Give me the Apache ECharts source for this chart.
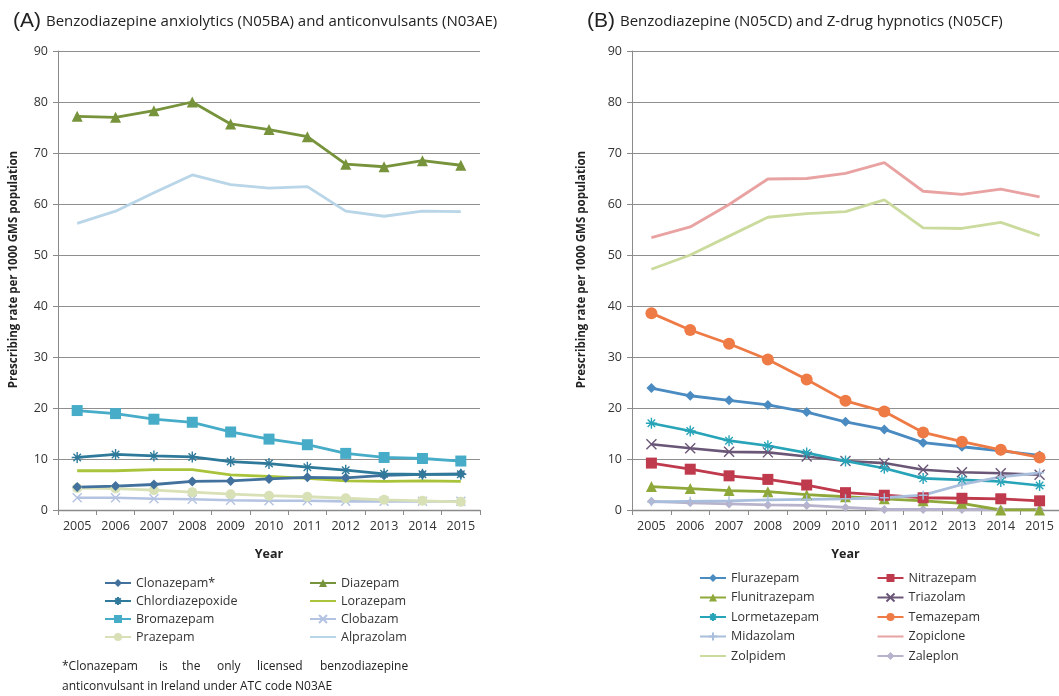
<!DOCTYPE html>
<html>
<head>
<meta charset="utf-8">
<title>Benzodiazepine prescribing rates</title>
<script src="https://cdn.jsdelivr.net/npm/echarts@6/dist/echarts.min.js"></script>
<style>
    html, body { margin: 0; padding: 0; background: #fff; }
    .wrap { position: relative; width: 1059px; height: 696px; overflow: hidden; }
    .panel { position: absolute; top: 0; height: 696px; }
    #chart-a { left: 0; width: 530px; }
    #chart-b { left: 530px; width: 529px; }
</style>
</head>
<body>
<div class="wrap">
    <div class="panel" id="chart-a"></div>
    <div class="panel" id="chart-b"></div>
</div>
<script>
var years = ['2005', '2006', '2007', '2008', '2009', '2010', '2011', '2012', '2013', '2014', '2015'];
var yTicks = [0, 10, 20, 30, 40, 50, 60, 70, 80, 90];

// (A) anxiolytics and anticonvulsants
var clonazepam = [4.5, 4.7, 5.0, 5.6, 5.7, 6.1, 6.4, 6.3, 6.8, 7.0, 7.1];
var chlordiazepoxide = [10.3, 10.9, 10.6, 10.4, 9.5, 9.1, 8.4, 7.8, 7.1, 7.0, 7.0];
var bromazepam = [19.5, 18.9, 17.8, 17.2, 15.3, 13.9, 12.8, 11.1, 10.3, 10.1, 9.6];
var prazepam = [4.3, 4.2, 3.9, 3.5, 3.1, 2.8, 2.6, 2.3, 2.0, 1.8, 1.6];
var diazepam = [77.2, 77.0, 78.3, 80.0, 75.7, 74.6, 73.2, 67.8, 67.3, 68.5, 67.6];
var lorazepam = [7.7, 7.7, 7.9, 7.9, 6.9, 6.6, 6.2, 5.7, 5.6, 5.7, 5.6];
var clobazam = [2.4, 2.4, 2.2, 2.1, 1.9, 1.8, 1.8, 1.7, 1.7, 1.7, 1.7];
var alprazolam = [56.2, 58.6, 62.2, 65.7, 63.8, 63.1, 63.4, 58.6, 57.6, 58.6, 58.5];

// (B) hypnotics
var flurazepam = [23.9, 22.4, 21.5, 20.6, 19.2, 17.3, 15.8, 13.2, 12.4, 11.6, 10.7];
var nitrazepam = [9.2, 8.0, 6.7, 6.0, 4.9, 3.4, 2.9, 2.4, 2.3, 2.2, 1.8];
var flunitrazepam = [4.6, 4.2, 3.8, 3.6, 3.0, 2.6, 2.2, 1.8, 1.3, 0, 0];
var triazolam = [12.9, 12.1, 11.4, 11.3, 10.5, 9.6, 9.2, 7.9, 7.4, 7.2, 6.9];
var lormetazepam = [17.0, 15.5, 13.6, 12.6, 11.2, 9.6, 8.2, 6.2, 5.9, 5.6, 4.8];
var temazepam = [38.6, 35.3, 32.6, 29.5, 25.6, 21.4, 19.3, 15.2, 13.4, 11.8, 10.3];
var midazolam = [1.6, 1.7, 1.8, 2.0, 2.1, 2.2, 2.4, 2.9, 5.0, 6.5, 7.3];
var zopiclone = [53.4, 55.5, 59.9, 64.9, 65.0, 66.0, 68.1, 62.5, 61.9, 62.9, 61.4];
var zolpidem = [47.2, 50.0, 53.7, 57.4, 58.1, 58.5, 60.8, 55.3, 55.2, 56.4, 53.8];
var zaleplon = [1.7, 1.4, 1.2, 1.0, 0.9, 0.5, 0.1, 0.1, 0.1, 0.1, 0.1];

// legend order, row by row (two columns)
var legendA = ['Clonazepam*', 'Diazepam', 'Chlordiazepoxide', 'Lorazepam', 'Bromazepam', 'Clobazam', 'Prazepam', 'Alprazolam'];
var legendB = ['Flurazepam', 'Nitrazepam', 'Flunitrazepam', 'Triazolam', 'Lormetazepam', 'Temazepam', 'Midazolam', 'Zopiclone', 'Zolpidem', 'Zaleplon'];
// series drawn without markers: plain line in the legend too
var plainLines = ['Lorazepam', 'Alprazolam', 'Zopiclone', 'Zolpidem'];

var FONT = '"Open Sans", "Liberation Sans", sans-serif';
var STAR = 'path://M0,5L10,5M5,0L5,10M1.6,1.6L8.4,8.4M8.4,1.6L1.6,8.4';
var CROSS = 'path://M1,1L9,9M9,1L1,9';
var PLUS = 'path://M5,0L5,10M3.5,5L6.5,5';

var line = function (name, data, color, symbol, size, width, stroked) {
    var s = {
        name: name,
        type: 'line',
        data: data,
        symbol: symbol || 'none',
        symbolSize: size || 8,
        showSymbol: !!symbol,
        lineStyle: { color: color, width: width || 2.8 },
        itemStyle: { color: color },
        emphasis: { disabled: true }
    };
    if (stroked) {
        s.itemStyle = { color: 'rgba(0,0,0,0)', borderColor: color, borderWidth: 1.4 };
    }
    return s;
};

var legendData = function (names) {
    return names.map(function (n) {
        if (plainLines.indexOf(n) >= 0) {
            return { name: n, itemStyle: { opacity: 0 } };
        }
        return { name: n };
    });
};

var baseOption = function (cfg) {
    return {
        backgroundColor: '#fff',
        animation: false,
        title: {
            left: cfg.titleLeft,
            top: 6,
            text: '{b|' + cfg.letter + '} {t|' + cfg.title + '}',
            textStyle: {
                fontWeight: 'normal',
                rich: {
                    b: { fontFamily: '"Liberation Sans", sans-serif', fontSize: 21, color: '#222' },
                    t: { fontFamily: FONT, fontSize: 15, color: '#222' }
                }
            }
        },
        grid: { left: cfg.gridLeft, top: 51, width: cfg.gridWidth, height: 459 },
        xAxis: {
            type: 'category',
            data: years,
            boundaryGap: true,
            name: 'Year',
            nameLocation: 'middle',
            nameGap: 38,
            nameTextStyle: { fontFamily: FONT, fontSize: 12.5, fontWeight: 'bold', color: '#222' },
            axisLine: { lineStyle: { color: '#8a8a8a', width: 1.4 } },
            axisTick: { show: true, length: 5, lineStyle: { color: '#8a8a8a' } },
            axisLabel: { interval: 0, fontFamily: FONT, fontSize: 12.5, color: '#333', margin: 10 }
        },
        yAxis: {
            type: 'value',
            min: yTicks[0],
            max: yTicks[yTicks.length - 1],
            interval: 10,
            name: 'Prescribing rate per 1000 GMS population',
            nameLocation: 'middle',
            nameGap: cfg.nameGap,
            nameTextStyle: { fontFamily: FONT, fontSize: 11.5, fontWeight: 'bold', color: '#222', padding: [0, 0, 0, 22] },
            axisLine: { show: true, lineStyle: { color: '#8a8a8a', width: 1 } },
            axisTick: { show: true, length: 5, lineStyle: { color: '#8a8a8a' } },
            axisLabel: { fontFamily: FONT, fontSize: 12.5, color: '#333', margin: 10 },
            splitLine: { lineStyle: { color: '#8f8f8f', width: 1.2 } }
        },
        legend: {
            orient: 'horizontal',
            left: cfg.legendLeft,
            top: cfg.legendTop,
            width: 2 * (26 + 5 + cfg.legendTextW) + cfg.legendGap + 2,
            padding: 0,
            data: legendData(cfg.legend),
            itemWidth: 26,
            itemHeight: 10,
            itemGap: cfg.legendGap,
            textStyle: { fontFamily: FONT, fontSize: 12.5, color: '#333', lineHeight: 14, width: cfg.legendTextW },
            selectedMode: false
        },
        graphic: cfg.graphic || [],
        series: cfg.series
    };
};

var footWords = [['*Clonazepam', 62], ['is', 159], ['the', 182], ['only', 217], ['licensed', 257], ['benzodiazepine', 320]];
var footnote = footWords.map(function (w) {
    return { type: 'text', left: w[1], top: 661, style: { text: w[0], font: '12px ' + FONT, fill: '#222' } };
});
footnote.push({ type: 'text', left: 62, top: 681, style: { text: 'anticonvulsant in Ireland under ATC code N03AE', font: '12px ' + FONT, fill: '#222' } });

var run = function () {
    var chartA = echarts.init(document.getElementById('chart-a'));
    chartA.setOption(baseOption({
        letter: '(A)',
        title: 'Benzodiazepine anxiolytics (N05BA) and anticonvulsants (N03AE)',
        titleLeft: 8,
        gridLeft: 54,
        gridWidth: 426,
        nameGap: 38,
        legend: legendA,
        legendLeft: 104,
        legendTop: 576,
        legendTextW: 169,
        legendGap: 4,
        graphic: footnote,
        series: [
            line('Alprazolam', alprazolam, '#b9d5e8', null, 0),
            line('Diazepam', diazepam, '#77933c', 'triangle', 11),
            line('Clobazam', clobazam, '#b4c3e2', CROSS, 9, 2.6, true),
            line('Prazepam', prazepam, '#d8e0b6', 'circle', 10),
            line('Lorazepam', lorazepam, '#a9c43a', null, 0),
            line('Clonazepam*', clonazepam, '#41719c', 'diamond', 10),
            line('Chlordiazepoxide', chlordiazepoxide, '#2f7a9a', STAR, 11, 2.8, true),
            line('Bromazepam', bromazepam, '#47acc8', 'rect', 11)
        ]
    }));

    var chartB = echarts.init(document.getElementById('chart-b'));
    chartB.setOption(baseOption({
        letter: '(B)',
        title: 'Benzodiazepine (N05CD) and Z-drug hypnotics (N05CF)',
        titleLeft: 52,
        gridLeft: 102,
        gridWidth: 432,
        nameGap: 44,
        legend: legendB,
        legendLeft: 169,
        legendTop: 571,
        legendTextW: 140,
        legendGap: 5.5,
        series: [
            line('Zopiclone', zopiclone, '#e9a2a2', null, 0),
            line('Zolpidem', zolpidem, '#cbdb9e', null, 0),
            line('Zaleplon', zaleplon, '#b8b3cc', 'diamond', 9),
            line('Flunitrazepam', flunitrazepam, '#8fa83a', 'triangle', 11),
            line('Nitrazepam', nitrazepam, '#bf3a4c', 'rect', 11),
            line('Triazolam', triazolam, '#6a5676', CROSS, 10, 2.6, true),
            line('Lormetazepam', lormetazepam, '#27a4b8', STAR, 11, 2.6, true),
            line('Midazolam', midazolam, '#a8bedc', PLUS, 9, 2.8, true),
            line('Flurazepam', flurazepam, '#4a8bc1', 'diamond', 10),
            line('Temazepam', temazepam, '#ee7b45', 'circle', 12)
        ]
    }));
};

run();
</script>
</body>
</html>
